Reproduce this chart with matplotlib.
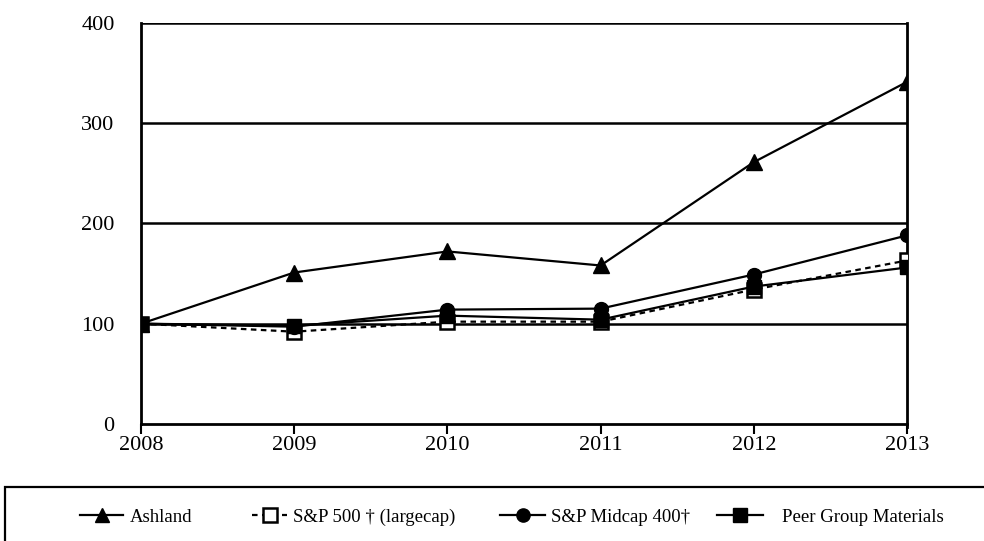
import matplotlib
matplotlib.use("Agg")
import matplotlib.pyplot as plt
from matplotlib.patches import Rectangle

years = [2008, 2009, 2010, 2011, 2012, 2013]
ashland = [100, 151, 172, 158, 261, 341]
sp500 = [100, 92, 102, 102, 134, 163]
midcap = [100, 97, 114, 115, 149, 188]
peer = [100, 98, 108, 104, 137, 156]
yticks = [0, 100, 200, 300, 400]
labels = ["Ashland", "S&P 500 \u2020 (largecap)", "S&P Midcap 400\u2020", "Peer Group Materials"]

plt.rcParams['font.family'] = ['Liberation Serif', 'DejaVu Serif']

fig = plt.figure(figsize=(9.84, 5.41), dpi=100)
ax = fig.add_axes([141/984, 1-424/541, (907-141)/984, (424-22.7)/541])

lw = 1.6
ax.plot(years, ashland, color='black', lw=lw, marker='^', ms=11, label=labels[0], zorder=4)
ax.plot(years, sp500, color='black', lw=lw, ls=(0, (2.5, 2.0)), marker='s', ms=10,
        mfc='white', mec='black', mew=1.8, label=labels[1], zorder=3)
ax.plot(years, midcap, color='black', lw=lw, marker='o', ms=10, label=labels[2], zorder=4)
ax.plot(years, peer, color='black', lw=lw, marker='s', ms=10, label=labels[3], zorder=5)

ax.set_xlim(years[0], years[-1])
ax.set_ylim(0, 400)
ax.set_yticks(yticks)
ax.set_xticks(years)
for y in yticks[1:]:
    ax.axhline(y, color='black', lw=1.8, zorder=1)
for s in ['left', 'right', 'bottom']:
    ax.spines[s].set_linewidth(2.0)
ax.spines['top'].set_visible(False)
ax.tick_params(axis='y', length=0, pad=19, labelsize=16)
ax.tick_params(axis='x', length=7, width=1.5, direction='out', pad=2, labelsize=16)
ax.spines['right'].set_bounds(-2.5, 400)

# legend box
fig.patches.append(Rectangle((5/984, -0.1), 1.2, 1-487/541 + 0.1, transform=fig.transFigure,
                             fill=False, edgecolor='black', lw=1.6))
h, l = ax.get_legend_handles_labels()
fs = 13.5
em = fs * 100 / 72.0
handle_start = [80, 252, 500, 717]
handle_end = [123, 287, 545, 763]
text_start = [130, 293, 551, 782]
for hh, ll, a, b, t in zip(h, l, handle_start, handle_end, text_start):
    fig.legend([hh], [ll], loc='center left', bbox_to_anchor=(a/984, 1-517/541), frameon=False,
               fontsize=fs, handlelength=(b-a)/em, handletextpad=(t-b)/em, borderpad=0,
               borderaxespad=0, markerscale=0.95)

fig.savefig("out.png", dpi=100, facecolor='white')
